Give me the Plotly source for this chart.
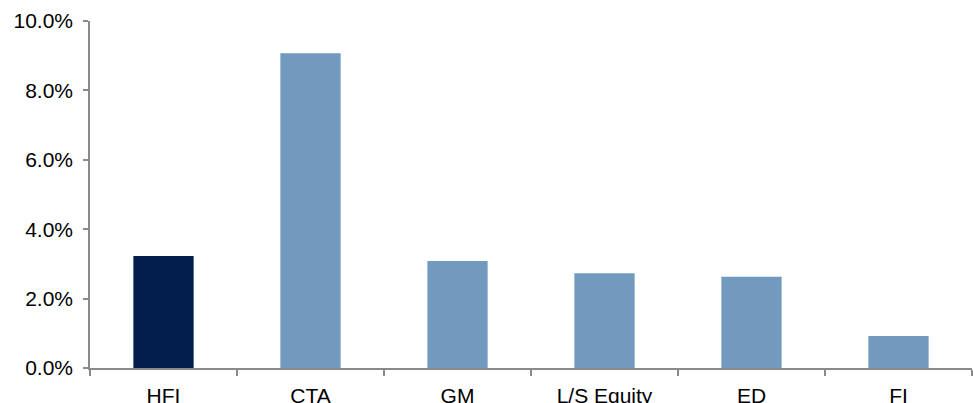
import plotly.graph_objects as go

# Strategy categories and their values (percent)
categories = ["HFI", "CTA", "GM", "L/S Equity", "ED", "FI"]
values = [3.23, 9.07, 3.08, 2.73, 2.63, 0.92]
colors = ["#021f4b", "#7299be", "#7299be", "#7299be", "#7299be", "#7299be"]
y_ticks = [0, 2, 4, 6, 8, 10]

fig = go.Figure(
    go.Bar(
        x=categories,
        y=values,
        marker=dict(color=colors, line=dict(width=0)),
        width=0.41,
    )
)

axis_color = "#8a8a8a"
font_family = "Liberation Sans, Arial, sans-serif"
label_font = dict(family=font_family, size=21, color="#000000")

fig.update_layout(
    width=973,
    height=403,
    margin=dict(l=90, r=1, t=21, b=35),
    paper_bgcolor="white",
    plot_bgcolor="white",
    showlegend=False,
    font=label_font,
)

fig.update_xaxes(
    range=[-0.5, 5.5],
    automargin=False,
    showline=True,
    linecolor=axis_color,
    linewidth=1.5,
    ticks="outside",
    tickson="boundaries",
    ticklen=6,
    tickwidth=1.5,
    tickcolor=axis_color,
    showgrid=False,
    ticklabelstandoff=8,
    tickfont=label_font,
)

fig.update_yaxes(
    range=[0, 10],
    automargin=False,
    tickvals=y_ticks,
    ticktext=[f"{v:.1f}%" for v in y_ticks],
    showline=True,
    linecolor=axis_color,
    linewidth=1.5,
    ticks="outside",
    ticklen=5,
    tickwidth=1.5,
    tickcolor=axis_color,
    showgrid=False,
    zeroline=False,
    ticklabelstandoff=6,
    tickfont=label_font,
)

fig.write_html("out.html")
